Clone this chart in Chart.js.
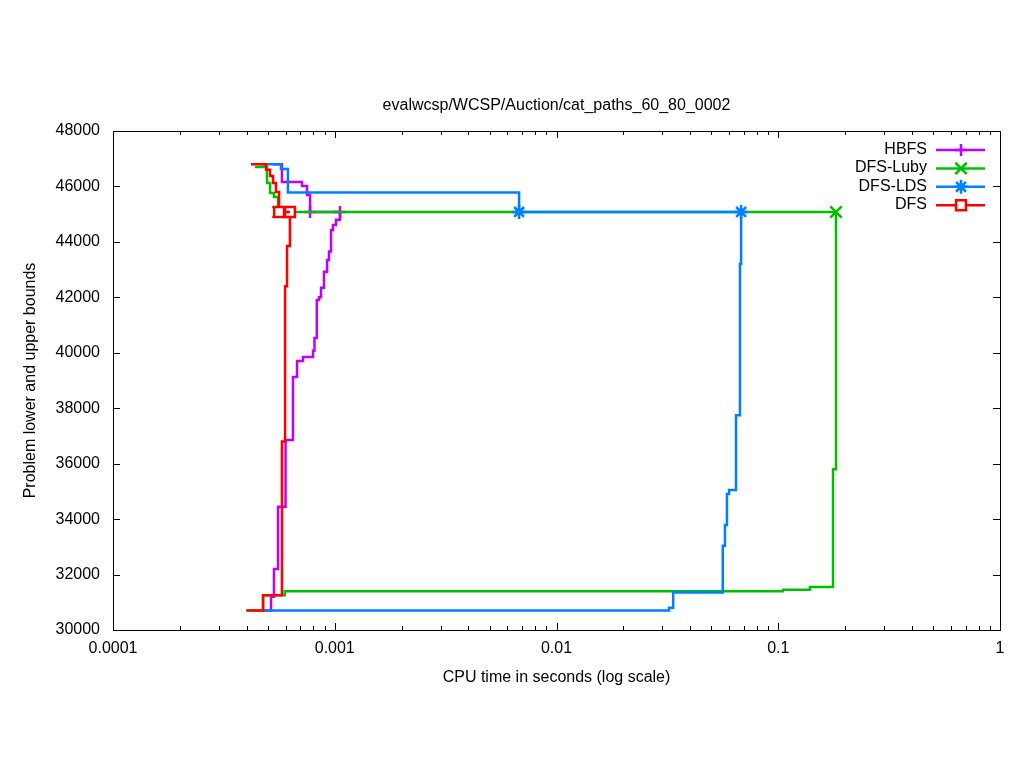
<!DOCTYPE html>
<html>
<head>
<meta charset="utf-8">
<script src="https://cdn.jsdelivr.net/npm/chart.js@4.4.1/dist/chart.umd.min.js"></script>
<style>
  html, body { margin: 0; padding: 0; background: #fff; }
  #wrap { width: 1024px; height: 768px; }
</style>
</head>
<body>
<div id="wrap"><canvas id="chart" width="1024" height="768"></canvas></div>
<script>
// --- data (time in s, bound value) ---
const chartTitle = "evalwcsp/WCSP/Auction/cat_paths_60_80_0002";
const seriesNames = ["HBFS", "DFS-Luby", "DFS-LDS", "DFS"];
const seriesColors = ["#c000ff", "#00c000", "#0080ff", "#ff0000"];
const seriesMarkers = ["cross", "crossRot", "star", "rect"];

const hbfsUpperTime = [0.000527, 0.000578, 0.000712, 0.000750, 0.000774];
const hbfsUpperBound = [46800, 46160, 46020, 45690, 45080];
const hbfsLowerTime = [0.000475, 0.000516, 0.000532, 0.000555, 0.000600, 0.000648, 0.000676, 0.000719,
  0.000798, 0.000810, 0.000830, 0.000849, 0.000867, 0.000894, 0.000923, 0.000942, 0.000962, 0.000982,
  0.001013, 0.001056];
const hbfsLowerBound = [30700, 31200, 32200, 34450, 36850, 39130, 39700, 39850,
  40070, 40530, 41900, 42000, 42350, 42920, 43350, 43650, 44430, 44610,
  44800, 45080];

const lubyUpperTime = [0.000437, 0.000495, 0.000511, 0.000532, 0.000555];
const lubyUpperBound = [46700, 46120, 45760, 45620, 45080];
const lubyLowerTime = [0.000398, 0.000475, 0.000595, 0.1051, 0.1390, 0.1766, 0.1821];
const lubyLowerBound = [30700, 31250, 31400, 31450, 31550, 35800, 45080];

const ldsUpperTime = [0.000470, 0.000572, 0.000615, 0.00678];
const ldsUpperBound = [46800, 46630, 45780, 45080];
const ldsLowerTime = [0.000470, 0.0322, 0.0336, 0.0562, 0.0575, 0.0587, 0.0600, 0.0645, 0.0672, 0.0680];
const ldsLowerBound = [30700, 30800, 31350, 33040, 33790, 34910, 35050, 37750, 43200, 45080];

const dfsUpperTime = [0.000419, 0.000490, 0.000511, 0.000527, 0.000543, 0.000561];
const dfsUpperBound = [46800, 46600, 46380, 46120, 45800, 45080];
const dfsLowerTime = [0.000402, 0.000475, 0.000578, 0.000597, 0.000609, 0.000628];
const dfsLowerBound = [30700, 31250, 36800, 42400, 43850, 45080];

const xTickValues = [0.0001, 0.001, 0.01, 0.1, 1];
const xTickLabels = ["0.0001", "0.001", "0.01", "0.1", "1"];
const yTickValues = [30000, 32000, 34000, 36000, 38000, 40000, 42000, 44000, 46000, 48000];

const FONT = "'Liberation Sans', Arial, sans-serif";

// --- datasets: upper bound runs on to the end of the lower bound ---
function buildSeries(k, upT, upB, loT, loB) {
  const endT = loT[loT.length - 1];
  const upPts = upT.map((t, i) => ({ x: t, y: upB[i] }));
  upPts.push({ x: endT, y: upB[upB.length - 1] });
  const loPts = loT.map((t, i) => ({ x: t, y: loB[i] }));
  const rUp = upPts.map((_, i) => i === upT.length - 1 ? markerRadius(k) : 0);
  const rLo = loPts.map((_, i) => i === loPts.length - 1 ? markerRadius(k) : 0);
  return [upPts, loPts].map((pts, j) => ({
    label: seriesNames[k] + (j ? " lower" : " upper"),
    data: pts,
    stepped: true,
    borderColor: seriesColors[k],
    borderWidth: 2.5,
    pointStyle: seriesMarkers[k],
    pointRadius: j ? rLo : rUp,
    pointBorderColor: seriesColors[k],
    pointBackgroundColor: seriesMarkers[k] === "rect" ? "#fff" : seriesColors[k],
    pointBorderWidth: 2.5,
    order: 4 - k
  }));
}

function markerRadius(k) {
  return [6, 8, 7, 7][k];
}

const datasets = [
  ...buildSeries(0, hbfsUpperTime, hbfsUpperBound, hbfsLowerTime, hbfsLowerBound),
  ...buildSeries(1, lubyUpperTime, lubyUpperBound, lubyLowerTime, lubyLowerBound),
  ...buildSeries(2, ldsUpperTime, ldsUpperBound, ldsLowerTime, ldsLowerBound),
  ...buildSeries(3, dfsUpperTime, dfsUpperBound, dfsLowerTime, dfsLowerBound)
];

// --- gnuplot look: frame, inward ticks, title, legend ---
const gnuplotDecor = {
  id: "gnuplotDecor",
  beforeDatasetsDraw(chart) {
    const { ctx, chartArea: a, scales: { x, y } } = chart;
    ctx.save();
    ctx.strokeStyle = "#000";
    ctx.lineWidth = 1;
    ctx.beginPath();
    yTickValues.forEach(v => {
      const py = Math.round(y.getPixelForValue(v)) + 0.5;
      ctx.moveTo(a.left, py); ctx.lineTo(a.left + 7, py);
      ctx.moveTo(a.right, py); ctx.lineTo(a.right - 7, py);
    });
    xTickValues.forEach((v, i) => {
      const px = Math.round(x.getPixelForValue(v)) + 0.5;
      ctx.moveTo(px, a.bottom); ctx.lineTo(px, a.bottom - 7);
      ctx.moveTo(px, a.top); ctx.lineTo(px, a.top + 7);
      if (i < xTickValues.length - 1) {
        for (let m = 2; m <= 9; m++) {
          const mx = Math.round(x.getPixelForValue(v * m)) + 0.5;
          ctx.moveTo(mx, a.bottom); ctx.lineTo(mx, a.bottom - 4);
          ctx.moveTo(mx, a.top); ctx.lineTo(mx, a.top + 4);
        }
      }
    });
    ctx.stroke();
    ctx.strokeRect(Math.round(a.left) + 0.5, Math.round(a.top) + 0.5,
      Math.round(a.right - a.left), Math.round(a.bottom - a.top));
    ctx.restore();
  },
  afterDraw(chart) {
    const { ctx, chartArea: a } = chart;
    ctx.save();
    ctx.fillStyle = "#000";
    ctx.font = "16px " + FONT;
    ctx.textAlign = "center";
    ctx.textBaseline = "alphabetic";
    ctx.fillText(chartTitle, (a.left + a.right) / 2, 110);

    // legend, text left of the sample line
    seriesNames.forEach((name, k) => {
      const ry = 150 + k * 18.4;
      ctx.fillStyle = "#000";
      ctx.textAlign = "right";
      ctx.fillText(name, 927, ry + 4);
      ctx.strokeStyle = seriesColors[k];
      ctx.lineWidth = 2.5;
      ctx.beginPath();
      ctx.moveTo(936, ry); ctx.lineTo(985, ry);
      ctx.stroke();
      ctx.fillStyle = seriesMarkers[k] === "rect" ? "#fff" : seriesColors[k];
      Chart.helpers.drawPoint(ctx, {
        pointStyle: seriesMarkers[k], radius: markerRadius(k), rotation: 0, borderWidth: 2.5
      }, 961, ry);
    });
    ctx.restore();
  }
};

new Chart(document.getElementById("chart"), {
  type: "line",
  data: { datasets },
  options: {
    responsive: false,
    animation: false,
    events: [],
    layout: { padding: { top: 131, right: 24, bottom: 0, left: 0 } },
    plugins: { legend: { display: false }, tooltip: { enabled: false }, title: { display: false } },
    scales: {
      x: {
        type: "logarithmic",
        min: 0.0001,
        max: 1,
        afterBuildTicks: s => { s.ticks = xTickValues.map(v => ({ value: v })); },
        afterFit: s => { s.height = 138; },
        grid: { display: false, drawTicks: false },
        border: { display: false },
        ticks: {
          color: "#000", font: { family: FONT, size: 16 }, padding: 9,
          maxRotation: 0, autoSkip: false,
          callback: (v) => xTickLabels[xTickValues.indexOf(v)]
        },
        title: {
          display: true, text: "CPU time in seconds (log scale)", color: "#000",
          font: { family: FONT, size: 16 }, padding: { top: 0, bottom: 81 }
        }
      },
      y: {
        type: "linear",
        min: 30000,
        max: 48000,
        afterBuildTicks: s => { s.ticks = yTickValues.map(v => ({ value: v })); },
        afterFit: s => { s.width = 113; },
        grid: { display: false, drawTicks: false },
        border: { display: false },
        ticks: {
          color: "#000", font: { family: FONT, size: 16 }, padding: 13,
          callback: (v) => String(v)
        },
        title: {
          display: true, text: "Problem lower and upper bounds", color: "#000",
          font: { family: FONT, size: 16 }, padding: { top: 21, bottom: 0 }
        }
      }
    }
  },
  plugins: [gnuplotDecor]
});
</script>
</body>
</html>
